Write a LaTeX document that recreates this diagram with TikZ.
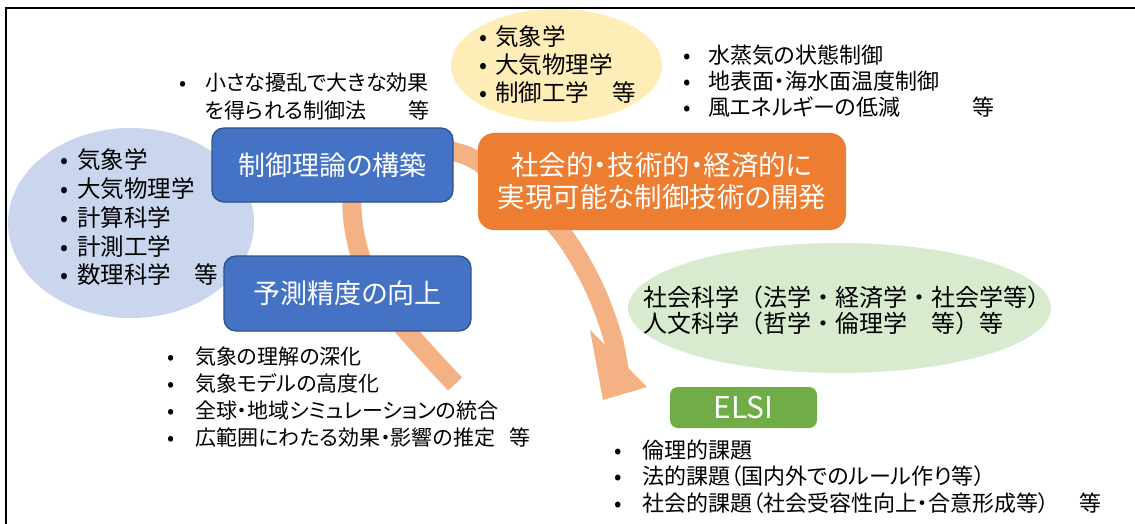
\documentclass[tikz,border=0pt]{standalone}
\usepackage{fontspec}
\setmainfont{Noto Sans CJK JP}[RawFeature={+palt}]
\newfontfamily\widefont{Noto Sans CJK JP}
\usetikzlibrary{shapes.geometric}
\definecolor{boxblue}{HTML}{4472C4}
\definecolor{boxblueline}{HTML}{2F528F}
\definecolor{boxorange}{HTML}{ED7D31}
\definecolor{boxgreen}{HTML}{70AD47}
\definecolor{bandc}{HTML}{F4B183}
\definecolor{ellblue}{HTML}{C9D6EE}
\definecolor{ellyellow}{HTML}{FFEDB8}
\definecolor{ellgreen}{HTML}{D8EBCF}
\newcommand\bul[1]{\makebox[#1][l]{•}}
\begin{document}
\begin{tikzpicture}[x=1pt,y=-1pt,
  frame/.style={draw=black, line width=2.3pt},
  band/.style={draw=bandc, line width=19pt, line cap=butt, line join=round},
  bluebox/.style={draw=boxblueline, line width=1.3pt, fill=boxblue, rounded corners=12pt, text=white, inner sep=0pt, font=\fontsize{27}{32}\selectfont},
  orangebox/.style={fill=boxorange, rounded corners=16pt, text=white, inner sep=0pt, align=center, font=\fontsize{27.5}{32}\selectfont},
  greenbox/.style={fill=boxgreen, rounded corners=8pt, text=white, inner sep=0pt, font=\fontsize{30}{34}\selectfont},
  blob/.style={ellipse, inner sep=0pt},
  item/.style={anchor=west, inner sep=0pt, text=black},
  body/.style={item, font=\fontsize{22}{26}\selectfont},
  small/.style={item, font=\fontsize{21}{25}\selectfont},
  big/.style={item, font=\fontsize{23.5}{28}\selectfont},
  wide/.style={item, font=\widefont\fontsize{24}{28}\selectfont},
]
\useasboundingbox (0,0) rectangle (1135,524);
\fill[white] (0,0) rectangle (1135,524);
% frame
\coordinate (fTR) at (1135,7.8);
\coordinate (fTL) at (6.2,7.8);
\coordinate (fBL) at (6.2,524);
\draw[frame] (fTR) -- (fTL) -- (fBL);
% curved band arrow
\draw[band] plot[smooth, tension=0.6] coordinates {(455,384) (412,337) (378,295) (360,255) (352,210) (356,175) (375,150) (410,140) (452,151) (477,161) (520,192) (561,232) (592,283) (612,335) (619,370)};
\fill[bandc] (590,330) -- (647,387) -- (603,400) -- cycle;
% ellipses
\node[blob, fill=ellyellow, minimum width=211pt, minimum height=113pt] (yell) at (556.5,65.5) {};
\node[blob, fill=ellblue, minimum width=246pt, minimum height=190pt] (bell) at (131,223) {};
\node[blob, fill=ellgreen, minimum width=423pt, minimum height=130pt] (gell) at (839.5,308) {};
% boxes
\node[bluebox, minimum width=241pt, minimum height=74pt] (ctrl) at (332.5,165) {制御理論の構築};
\node[bluebox, minimum width=247pt, minimum height=75pt] (pred) at (347.5,293.5) {予測精度の向上};
\node[orangebox, minimum width=368pt, minimum height=97pt] (dev) at (662,181.5) {社会的・技術的・経済的に\\実現可能な制御技術の開発};
\node[greenbox, minimum width=147pt, minimum height=41pt] (elsi) at (743.5,407.5) {ELSI};
% lists
\node[small] (tl1) at (179,83) {\bul{26pt}小さな擾乱で大きな効果};
\node[small] (tl2) at (205,110) {を得られる制御法　　等};
\foreach \t [count=\i from 0] in {気象学,大気物理学,制御工学　等}
  \node[big] (ye\i) at (479,{37+28*\i}) {\bul{16pt}\t};
\foreach \t [count=\i from 0] in {気象学,大気物理学,計算科学,計測工学,数理科学　等}
  \node[big] (bl\i) at (60,{160+28.7*\i}) {\bul{17pt}\t};
\foreach \t [count=\i from 0] in {水蒸気の状態制御,地表面・海水面温度制御,風エネルギーの低減\hspace{72pt}等}
  \node[body] (rt\i) at (683,{55+26*\i}) {\bul{25pt}\t};
\foreach \t [count=\i from 0] in {気象の理解の深化,気象モデルの高度化,全球・地域シミュレーションの統合,広範囲にわたる効果・影響の推定\hspace{14pt}等}
  \node[small] (bt\i) at (167,{357+26.7*\i}) {\bul{28pt}\t};
\node[wide] (gt1) at (643,297) {社会科学（法学・経済学・社会学等）};
\node[wide] (gt2) at (643,323) {人文科学（哲学・倫理学　等）等};
\foreach \t [count=\i from 0] in {倫理的課題,法的課題（国内外でのルール作り等）,社会的課題（社会受容性向上・合意形成等）\hspace{30pt}等}
  \node[body] (el\i) at (614,{450+26.5*\i}) {\bul{28pt}\t};
\end{tikzpicture}
\end{document}
